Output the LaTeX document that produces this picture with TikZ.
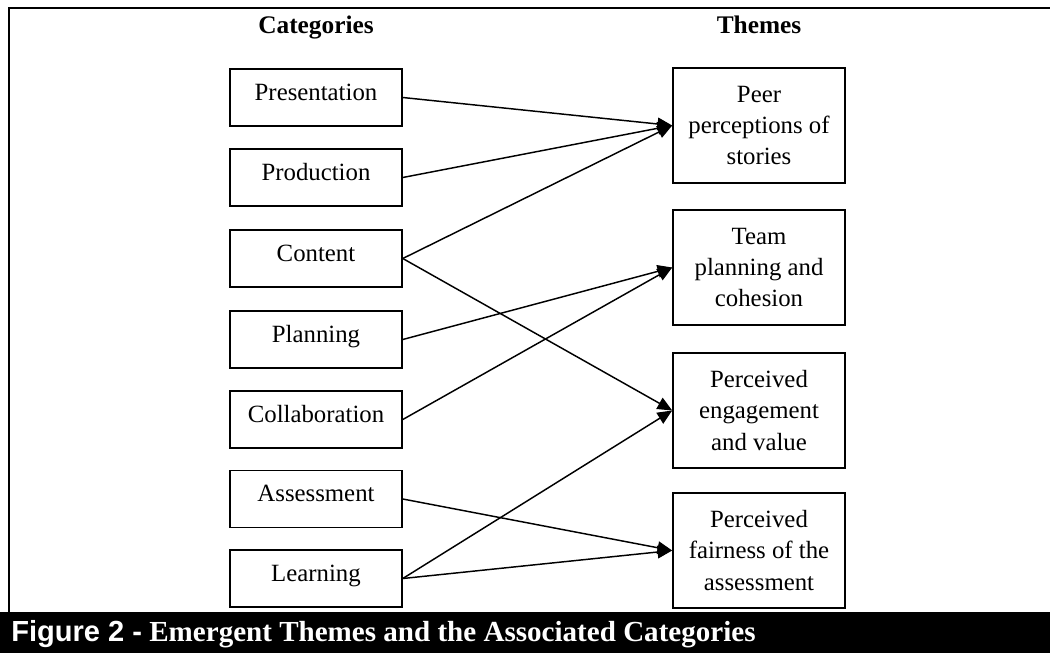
\documentclass[tikz,border=0pt]{standalone}
\usepackage{fontspec}
\setmainfont{Liberation Serif}
\newfontfamily\capsans{Liberation Sans}
\usetikzlibrary{arrows.meta}
\begin{document}
\begin{tikzpicture}[x=0.75pt,y=-0.75pt,
  catbox/.style={draw=black, line width=1.2pt, minimum width=129pt, minimum height=42.75pt,
    inner sep=0pt, font=\fontsize{18.6}{23}\selectfont, text height=12pt, text depth=8pt},
  themebox/.style={draw=black, line width=1.2pt, minimum width=129pt, minimum height=86.25pt,
    inner sep=0pt, align=center, font=\fontsize{18.6}{23.3}\selectfont},
  header/.style={anchor=base, font=\fontsize{19}{22}\selectfont\bfseries},
  link/.style={line width=1.1pt, -{Triangle[length=11pt,width=9.5pt]}}]
\useasboundingbox (0,0) rectangle (1050,653);
% frame and caption bar
\draw[line width=1.6pt] (9,612) -- (9,8) -- (1050,8);
\fill[black] (0,612) rectangle (1050,653);
\node[anchor=base west, text=white, inner sep=0pt, font=\fontsize{21.8}{24}\selectfont] (cap) at (11,641)
  {{\capsans\bfseries Figure 2 -} {\bfseries Emergent Themes and the Associated Categories}};
% headers
\node[header] (hcat) at (316,33) {Categories};
\node[header] (hthm) at (759,33) {Themes};
% categories
\node[catbox] (pres) at (316,97.5) {Presentation};
\node[catbox] (prod) at (316,177.5) {Production};
\node[catbox] (cont) at (316,258.5) {Content};
\node[catbox] (plan) at (316,339.5) {Planning};
\node[catbox] (coll) at (316,419.5) {Collaboration};
\node[catbox] (asse) at (316,499) {Assessment};
\node[catbox] (lear) at (316,578.5) {Learning};
% themes
\node[themebox] (peer) at (759,125.5) {Peer\\perceptions of\\stories};
\node[themebox] (team) at (759,267.5) {Team\\planning and\\cohesion};
\node[themebox] (enga) at (759,410.5) {Perceived\\engagement\\and value};
\node[themebox] (fair) at (759,550.5) {Perceived\\fairness of the\\assessment};
% links
\draw[link] (pres.east) -- (peer.west);
\draw[link] (prod.east) -- (peer.west);
\draw[link] (cont.east) -- (peer.west);
\draw[link] (cont.east) -- (enga.west);
\draw[link] (plan.east) -- (team.west);
\draw[link] (coll.east) -- (team.west);
\draw[link] (asse.east) -- (fair.west);
\draw[link] (lear.east) -- (enga.west);
\draw[link] (lear.east) -- (fair.west);
\end{tikzpicture}
\end{document}
